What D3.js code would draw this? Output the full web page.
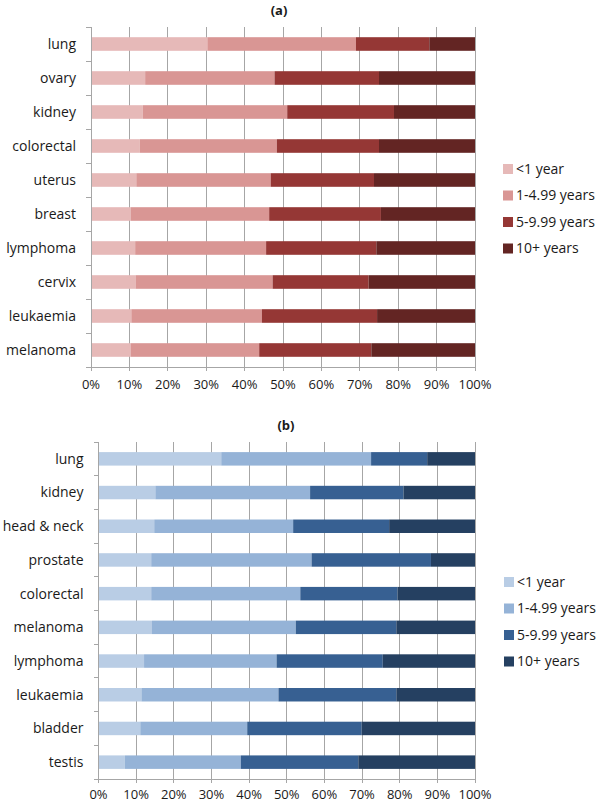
<!DOCTYPE html>
<html><head><meta charset="utf-8">
<script src="https://cdn.jsdelivr.net/npm/d3@7"></script>
<style>body{margin:0;background:#fff;} svg{display:block;font-family:"Open Sans",sans-serif;}</style>
</head><body>
<svg id="c" width="600" height="803"></svg>
<script>
const seriesNames = ["<1 year", "1-4.99 years", "5-9.99 years", "10+ years"];
const xTicks = [0,10,20,30,40,50,60,70,80,90,100];

const catsA = ["lung","ovary","kidney","colorectal","uterus","breast","lymphoma","cervix","leukaemia","melanoma"];
const a_lt1  = [30.3,14.1,13.5,12.7,11.8,10.4,11.5,11.6,10.5,10.3];
const a_1to5 = [38.7,33.7,37.6,35.7,35.0,36.0,34.1,35.7,34.0,33.5];
const a_5to10= [19.1,27.2,27.8,26.6,26.9,29.1,28.7,25.0,30.0,29.2];
const a_10p  = [11.9,25.0,21.1,25.0,26.3,24.5,25.7,27.7,25.5,27.0];
const colorsA = ["#e6b9b8","#d99694","#953735","#632523"];

const catsB = ["lung","kidney","head & neck","prostate","colorectal","melanoma","lymphoma","leukaemia","bladder","testis"];
const b_lt1  = [32.6,15.1,14.8,14.0,14.0,14.2,12.1,11.4,11.1,7.0];
const b_1to5 = [39.8,41.1,36.9,42.6,39.6,38.2,35.2,36.4,28.4,30.8];
const b_5to10= [14.9,24.8,25.5,31.7,25.8,26.7,28.2,31.3,30.4,31.2];
const b_10p  = [12.7,19.0,22.8,11.7,20.6,20.9,24.5,20.9,30.1,31.0];
const colorsB = ["#b9cde5","#95b3d7","#376092","#254061"];

const svg = d3.select("#c");

function drawPanel(cfg){
  const {cats, series, colors, x0, x1, y0, y1, title, titleX, titleY, legX, legY, tickDy} = cfg;
  const g = svg.append("g");
  const x = d3.scaleLinear().domain([0,100]).range([x0,x1]);
  const y = d3.scaleBand().domain(cats).range([y0,y1]).paddingInner(0.6).paddingOuter(0.3);
  // gridlines
  g.append("g").selectAll("line").data(xTicks).join("line")
    .attr("x1",d=>x(d)).attr("x2",d=>x(d)).attr("y1",y0).attr("y2",y1+4)
    .attr("stroke","#a6a6a6").attr("stroke-width",1).attr("shape-rendering","crispEdges");
  // x axis line
  g.append("line").attr("x1",x0).attr("x2",x1).attr("y1",y1).attr("y2",y1)
    .attr("stroke","#a6a6a6").attr("shape-rendering","crispEdges");
  // x tick labels
  g.append("g").selectAll("text").data(xTicks).join("text")
    .attr("x",d=>x(d)).attr("y",y1+tickDy).attr("text-anchor","middle")
    .attr("font-size",13).attr("fill","#1a1a1a").text(d=>d+"%");
  // stacked bars
  const rows = cats.map((c,i)=>{const o={cat:c}; series.forEach((s,j)=>o[seriesNames[j]]=s[i]); return o;});
  const stack = d3.stack().keys(seriesNames)(rows);
  g.append("g").selectAll("g").data(stack).join("g").attr("fill",(d,i)=>colors[i])
    .selectAll("rect").data(d=>d).join("rect")
    .attr("x",d=>x(d[0])).attr("width",d=>x(d[1])-x(d[0]))
    .attr("y",d=>y(d.data.cat)).attr("height",y.bandwidth());
  // y axis
  g.append("line").attr("x1",x0).attr("x2",x0).attr("y1",y0).attr("y2",y1)
    .attr("stroke","#a6a6a6").attr("shape-rendering","crispEdges");
  const step = y.step();
  const tickYs = d3.range(cats.length+1).map(i=>y0+i*step);
  g.append("g").selectAll("line").data(tickYs).join("line")
    .attr("x1",x0-5).attr("x2",x0).attr("y1",d=>d).attr("y2",d=>d)
    .attr("stroke","#a6a6a6").attr("shape-rendering","crispEdges");
  g.append("g").selectAll("text").data(cats).join("text")
    .attr("x",x0-15).attr("y",d=>y(d)+y.bandwidth()/2).attr("dy","0.35em")
    .attr("text-anchor","end").attr("font-size",14).attr("fill","#1a1a1a").text(d=>d);
  // title
  g.append("text").attr("x",titleX).attr("y",titleY).attr("text-anchor","middle")
    .attr("font-size",13).attr("font-weight","bold").attr("fill","#1a1a1a").text(title);
  // legend
  const lg = g.append("g").selectAll("g").data(seriesNames).join("g")
    .attr("transform",(d,i)=>`translate(${legX},${legY+i*26.5})`);
  lg.append("rect").attr("x",0).attr("y",-5).attr("width",10).attr("height",10).attr("fill",(d,i)=>colors[i]);
  lg.append("text").attr("x",13).attr("y",0).attr("dy","0.35em").attr("font-size",14).attr("fill","#1a1a1a").text(d=>d);
}

drawPanel({cats:catsA, series:[a_lt1,a_1to5,a_5to10,a_10p], colors:colorsA,
  x0:91, x1:475, y0:27, y1:367, title:"(a)", titleX:279, titleY:15, legX:503, legY:169, tickDy:22});
drawPanel({cats:catsB, series:[b_lt1,b_1to5,b_5to10,b_10p], colors:colorsB,
  x0:98.5, x1:475, y0:442, y1:779, title:"(b)", titleX:286, titleY:430, legX:504, legY:582, tickDy:19.5});
</script>
</body></html>
